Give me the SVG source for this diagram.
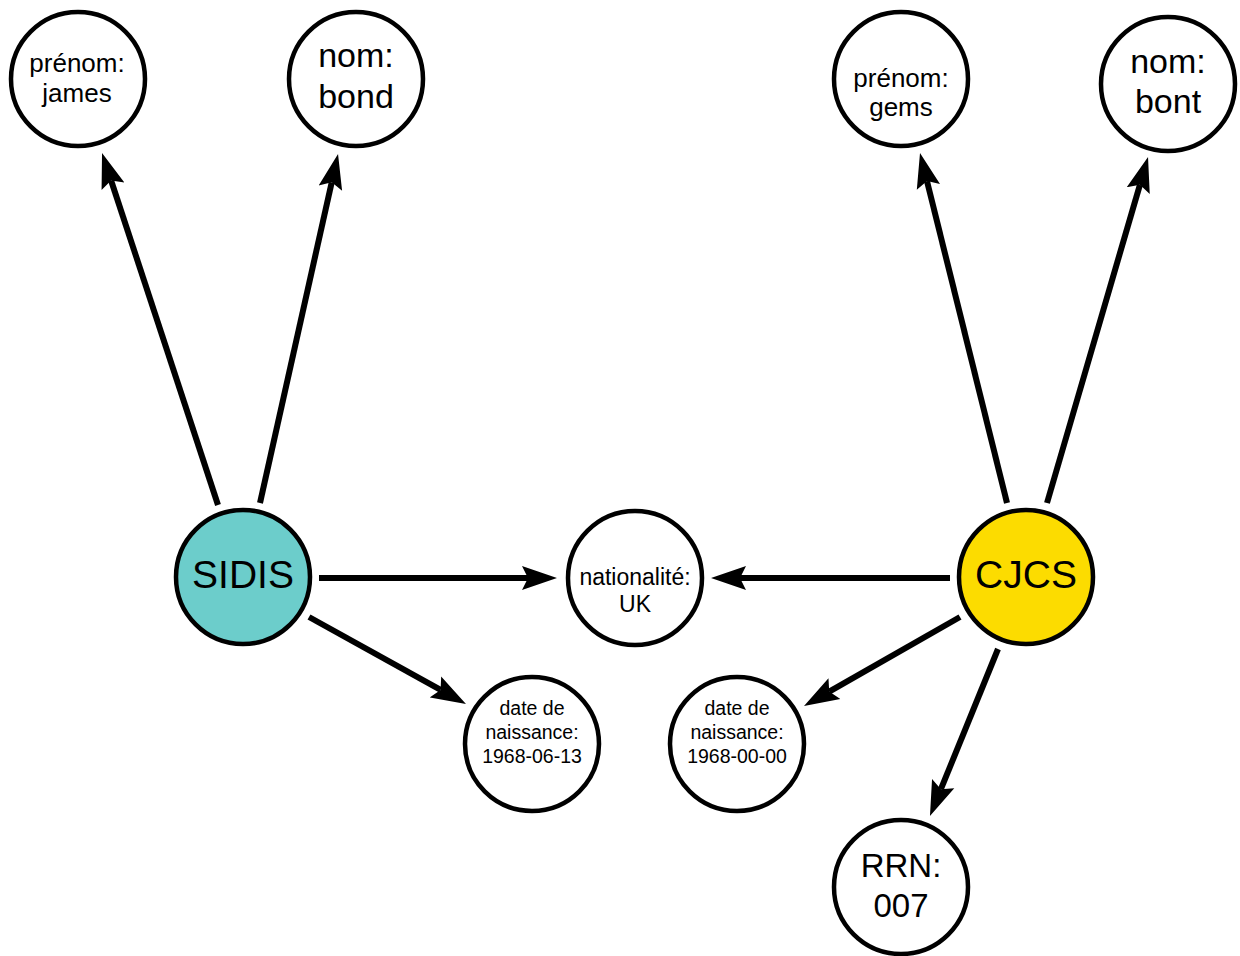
<svg xmlns="http://www.w3.org/2000/svg" width="1240" height="956" viewBox="0 0 1240 956">
<style>
.n{fill:#fff;stroke:#000;stroke-width:4.5}
.t{font-family:"Liberation Sans",Arial,sans-serif;text-anchor:middle;fill:#000}
.e{stroke:#000;stroke-width:6;fill:none;marker-end:url(#ah)}
</style>
<defs>
<marker id="ah" markerUnits="userSpaceOnUse" viewBox="0 0 35 25" markerWidth="35" markerHeight="25" refX="6" refY="12.5" orient="auto">
<path d="M0,0.5 L35,12.5 L0,24.5 L6,12.5 Z" fill="#000"/>
</marker>
</defs>
<rect width="1240" height="956" fill="#fff"/>
<g id="connectors">
<line class="e" x1="218" y1="505" x2="111.1" y2="180.5"/>
<line class="e" x1="260" y1="503" x2="331.7" y2="182.3"/>
<line class="e" x1="1007" y1="503" x2="927" y2="181.1"/>
<line class="e" x1="1047" y1="503" x2="1139.9" y2="184.8"/>
<line class="e" x1="319" y1="578" x2="528" y2="578"/>
<line class="e" x1="950" y1="578" x2="740" y2="578"/>
<line class="e" x1="309" y1="617" x2="440.6" y2="689.9"/>
<line class="e" x1="960" y1="617" x2="829.2" y2="691.6"/>
<line class="e" x1="998" y1="649" x2="940.9" y2="789.2"/>
</g>
<g id="prenom-james">
<circle class="n" cx="78" cy="79" r="67"/>
<text class="t" font-size="26" x="77" y="72">prénom:</text>
<text class="t" font-size="26" x="77" y="102">james</text>
</g>
<g id="nom-bond">
<circle class="n" cx="356" cy="79" r="67"/>
<text class="t" font-size="34" x="356" y="67">nom:</text>
<text class="t" font-size="34" x="356" y="108">bond</text>
</g>
<g id="prenom-gems">
<circle class="n" cx="901" cy="79" r="67"/>
<text class="t" font-size="26" x="901" y="87">prénom:</text>
<text class="t" font-size="26" x="901" y="116">gems</text>
</g>
<g id="nom-bont">
<circle class="n" cx="1168" cy="84" r="67"/>
<text class="t" font-size="34" x="1168" y="73">nom:</text>
<text class="t" font-size="34" x="1168" y="113">bont</text>
</g>
<g id="sidis">
<circle class="n" cx="243" cy="577" r="67" style="fill:#6ccdcb"/>
<text class="t" font-size="39" x="243" y="588">SIDIS</text>
</g>
<g id="nationalite">
<circle class="n" cx="635" cy="578" r="67"/>
<text class="t" font-size="23" x="635" y="585">nationalité:</text>
<text class="t" font-size="23" x="635" y="612">UK</text>
</g>
<g id="cjcs">
<circle class="n" cx="1026" cy="577" r="67" style="fill:#fcdc00"/>
<text class="t" font-size="39" x="1026" y="588">CJCS</text>
</g>
<g id="date-sidis">
<circle class="n" cx="532" cy="744" r="67"/>
<text class="t" font-size="19.5" x="532" y="715">date de</text>
<text class="t" font-size="19.5" x="532" y="739">naissance:</text>
<text class="t" font-size="19.5" x="532" y="763">1968-06-13</text>
</g>
<g id="date-cjcs">
<circle class="n" cx="737" cy="744" r="67"/>
<text class="t" font-size="19.5" x="737" y="715">date de</text>
<text class="t" font-size="19.5" x="737" y="739">naissance:</text>
<text class="t" font-size="19.5" x="737" y="763">1968-00-00</text>
</g>
<g id="rrn">
<circle class="n" cx="901" cy="887" r="67"/>
<text class="t" font-size="33" x="901" y="877">RRN:</text>
<text class="t" font-size="33" x="901" y="917">007</text>
</g>
</svg>
